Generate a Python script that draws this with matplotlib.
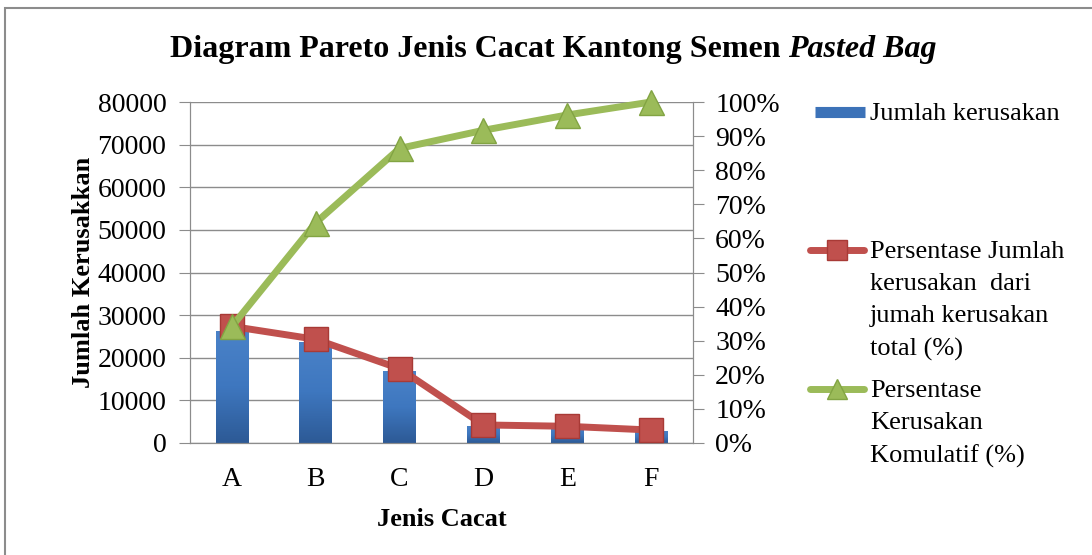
import matplotlib
matplotlib.use("Agg")
import matplotlib.pyplot as plt
import numpy as np
from matplotlib.colors import LinearSegmentedColormap
from matplotlib.lines import Line2D
from matplotlib.patches import Rectangle
from matplotlib.ticker import FuncFormatter, MultipleLocator

plt.rcParams["font.family"] = ["Liberation Serif", "DejaVu Serif"]

categories = ["A", "B", "C", "D", "E", "F"]
jumlah = [26300, 23800, 16800, 4100, 3700, 2900]
persen = [34.2, 30.4, 21.8, 5.3, 4.9, 3.8]
komulatif = [34.2, 64.6, 86.4, 91.7, 96.2, 100.0]

BLUE = "#3C72B8"
RED = "#C0504D"
RED_DARK = "#A83A36"
GREEN = "#9BBB59"
GREEN_DARK = "#82A443"
GRID = "#8C8C8C"
W, H = 1092, 555

fig = plt.figure(figsize=(W / 100, H / 100), dpi=100)
fig.patches.append(Rectangle((5 / W, -0.05), 1.2, 1 - 8 / H + 0.05,
                             transform=fig.transFigure, fill=False,
                             edgecolor=GRID, lw=1.5))

ax = fig.add_axes([190 / W, 1 - 443 / H, (693 - 190) / W, (443 - 102) / H])
x = np.arange(len(categories))
bars = ax.bar(x, jumlah, width=0.39, color=BLUE, lw=0, zorder=2)
grad = LinearSegmentedColormap.from_list("g", ["#2D5A96", "#3E77BF", "#4A82C8"])
for b in bars:
    bx, by = b.get_x(), b.get_y()
    im = ax.imshow(np.linspace(0, 1, 64).reshape(-1, 1), cmap=grad, origin="lower",
                   aspect="auto", extent=(bx, bx + b.get_width(), by, by + b.get_height()),
                   zorder=2.1)
    im.set_clip_path(b)
ax.set_xlim(-0.5, len(categories) - 0.5)
ax.set_ylim(0, 80000)
ax.yaxis.set_major_locator(MultipleLocator(10000))
ax.grid(axis="y", color=GRID, lw=1, zorder=0)
ax.set_axisbelow(True)
ax.set_xticks(x)
ax.set_xticklabels(categories)
ax.spines["top"].set_visible(False)
for s in ["left", "right", "bottom"]:
    ax.spines[s].set_color(GRID)
ax.tick_params(axis="x", length=0, labelsize=20, pad=17)
ax.tick_params(axis="y", length=8, color=GRID, labelsize=20, pad=9)
ax.set_xlabel("Jenis Cacat", fontsize=19, fontweight="bold", labelpad=12)
ax.set_ylabel("Jumlah Kerusakkan", fontsize=19, fontweight="bold", labelpad=2)

ax2 = ax.twinx()
ax2.set_ylim(0, 100)
ax2.yaxis.set_major_locator(MultipleLocator(10))
ax2.yaxis.set_major_formatter(FuncFormatter(lambda v, p: f"{v:.0f}%"))
ax2.tick_params(axis="y", length=8, color=GRID, labelsize=20, pad=8)
ax2.spines["top"].set_visible(False)
for s in ["left", "right", "bottom"]:
    ax2.spines[s].set_color(GRID)
ax2.plot(x, persen, color=RED, lw=5, marker="s", ms=17,
         mfc=RED, mec=RED_DARK, mew=1, zorder=3, clip_on=False)
ax2.plot(x, komulatif, color=GREEN, lw=5, marker="^", ms=18,
         mfc=GREEN, mec=GREEN_DARK, mew=1, zorder=4, clip_on=False)

# title: bold part + italic part, centred together
ty = 1 - 50 / H
t1 = fig.text(0, ty, "Diagram Pareto Jenis Cacat Kantong Semen ", ha="left",
              va="center", fontsize=23, fontweight="bold")
t2 = fig.text(0, ty, "Pasted Bag", ha="left", va="center", fontsize=23,
              fontweight="bold", style="italic")
r = fig.canvas.get_renderer()
w1 = t1.get_window_extent(r).width / W
w2 = t2.get_window_extent(r).width / W
x0 = 553 / W - (w1 + w2) / 2
t1.set_x(x0)
t2.set_x(x0 + w1)

# legend
entries = [
    (112, dict(color=BLUE, lw=8, solid_capstyle="butt"), [815, 865], "Jumlah kerusakan"),
    (250, dict(color=RED, lw=5, marker="s", ms=15, mfc=RED, mec=RED_DARK,
               markevery=[1], solid_capstyle="round"), [810, 837, 864],
     "Persentase Jumlah\nkerusakan  dari\njumah kerusakan\ntotal (%)"),
    (389, dict(color=GREEN, lw=5, marker="^", ms=15, mfc=GREEN, mec=GREEN_DARK,
               markevery=[1], solid_capstyle="round"), [810, 837, 864],
     "Persentase\nKerusakan\nKomulatif (%)"),
]
for y, style, xs, label in entries:
    yf = 1 - y / H
    fig.add_artist(Line2D([v / W for v in xs], [yf] * len(xs),
                          transform=fig.transFigure, **style))
    fig.text(870 / W, yf + 9 / H, label, ha="left", va="top",
             fontsize=19, linespacing=1.6)

fig.savefig("out.png", dpi=100)
